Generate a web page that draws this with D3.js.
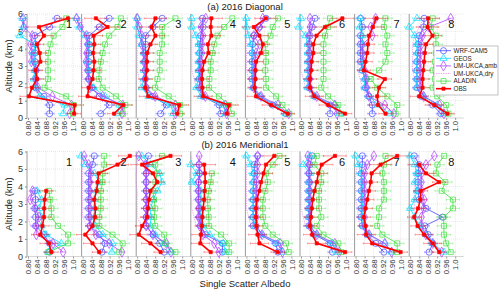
<!DOCTYPE html>
<html lang="en">
<head>
<meta charset="UTF-8">
<title>Single Scatter Albedo profiles</title>
<script src="https://d3js.org/d3.v7.min.js"></script>
<style>
  body { margin: 0; background: #fff; }
  svg { display: block; font-family: "Liberation Sans", Arial, sans-serif; }
</style>
</head>
<body>
<svg></svg>
<script>
// altitude levels (km), bottom to top
const alts = [0.25, 0.75, 1.25, 1.75, 2.25, 2.75, 3.25, 3.75, 4.25, 4.75, 5.25, 5.75];
const panelNames = ["1", "2", "3", "4", "5", "6", "7", "8"];
const xTicks = [0.80, 0.84, 0.88, 0.92, 0.96, 1.0];
const yTicks = [0, 1, 2, 3, 4, 5, 6];
const rowTitles = ["(a) 2016 Diagonal", "(b) 2016 Meridional1"];

// (a) Diagonal, one array per panel, values bottom to top
const wrfA = [
  [0.896, 0.896, 0.871, 0.834, 0.834, 0.834, 0.831, 0.831, 0.834, 0.830, 0.896, 0.929],
  [0.881, 0.918, 0.874, 0.841, 0.827, 0.827, 0.827, 0.827, 0.828, 0.830, 0.874, 0.918],
  [0.904, 0.930, 0.870, 0.840, 0.836, 0.836, 0.836, 0.836, 0.837, 0.837, 0.870, 0.911],
  [0.929, 0.921, 0.850, 0.835, 0.833, 0.835, 0.835, 0.835, 0.837, 0.840, 0.850, 0.847],
  [0.976, 0.917, 0.858, 0.831, 0.825, 0.825, 0.825, 0.825, 0.828, 0.833, 0.858, 0.887],
  [0.929, 0.930, 0.860, 0.835, 0.835, 0.835, 0.835, 0.835, 0.835, 0.840, 0.850, 0.862],
  [0.874, 0.874, 0.859, 0.844, 0.844, 0.830, 0.822, 0.822, 0.822, 0.822, 0.830, 0.822],
  [0.936, 0.900, 0.850, 0.830, 0.830, 0.830, 0.830, 0.835, 0.835, 0.840, 0.860, 0.862]
];
const geosA = [
  [0.956, 0.963, 0.852, 0.830, 0.826, 0.830, 0.826, 0.826, 0.830, 0.763, 0.780, 0.775],
  [0.955, 0.963, 0.900, 0.849, 0.830, 0.827, 0.822, 0.826, 0.830, 0.812, 0.785, 0.773],
  [0.960, 0.950, 0.850, 0.820, 0.830, 0.830, 0.830, 0.830, 0.820, 0.810, 0.800, 0.800],
  [0.950, 0.940, 0.840, 0.820, 0.830, 0.830, 0.830, 0.833, 0.830, 0.818, 0.800, 0.800],
  [0.975, 0.930, 0.860, 0.830, 0.830, 0.830, 0.830, 0.830, 0.820, 0.810, 0.800, 0.800],
  [0.970, 0.950, 0.860, 0.830, 0.830, 0.830, 0.830, 0.830, 0.830, 0.820, 0.790, 0.800],
  [0.950, 0.900, 0.860, 0.840, 0.840, 0.830, 0.830, 0.830, 0.830, 0.830, 0.818, 0.822],
  [0.950, 0.920, 0.860, 0.830, 0.830, 0.830, 0.830, 0.830, 0.830, 0.820, 0.795, 0.830]
];
const ambA = [
  [0.985, 0.993, 0.908, 0.844, 0.837, 0.837, 0.815, 0.816, 0.812, 0.819, 0.781, 0.778],
  [0.975, 0.978, 0.889, 0.833, 0.827, 0.822, 0.815, 0.818, 0.822, 0.818, 0.790, 0.773],
  [0.970, 0.970, 0.880, 0.840, 0.835, 0.835, 0.830, 0.830, 0.820, 0.820, 0.810, 0.800],
  [0.955, 0.950, 0.860, 0.840, 0.840, 0.840, 0.840, 0.845, 0.845, 0.850, 0.840, 0.862],
  [0.988, 0.940, 0.865, 0.833, 0.836, 0.836, 0.836, 0.843, 0.858, 0.833, 0.858, 0.873],
  [0.960, 0.950, 0.870, 0.840, 0.840, 0.840, 0.840, 0.840, 0.840, 0.835, 0.840, 0.840],
  [0.970, 0.930, 0.860, 0.850, 0.850, 0.840, 0.835, 0.830, 0.830, 0.874, 0.867, 0.889],
  [0.950, 0.930, 0.860, 0.845, 0.845, 0.845, 0.845, 0.845, 0.850, 0.855, 0.884, 0.980]
];
const dryA = [
  [0.970, 0.960, 0.860, 0.810, 0.800, 0.800, 0.795, 0.790, 0.790, 0.790, 0.790, 0.800],
  [0.970, 0.970, 0.900, 0.820, 0.800, 0.800, 0.795, 0.790, 0.790, 0.795, 0.800, 0.800],
  [0.960, 0.960, 0.880, 0.820, 0.810, 0.800, 0.800, 0.800, 0.800, 0.800, 0.800, 0.800],
  [0.950, 0.940, 0.860, 0.820, 0.810, 0.800, 0.800, 0.800, 0.800, 0.800, 0.810, 0.810],
  [0.980, 0.930, 0.860, 0.820, 0.810, 0.800, 0.800, 0.800, 0.800, 0.800, 0.800, 0.810],
  [0.960, 0.940, 0.860, 0.820, 0.810, 0.800, 0.800, 0.800, 0.800, 0.800, 0.800, 0.800],
  [0.970, 0.920, 0.850, 0.830, 0.820, 0.810, 0.810, 0.810, 0.810, 0.820, 0.830, 0.840],
  [0.950, 0.920, 0.850, 0.830, 0.820, 0.810, 0.810, 0.810, 0.810, 0.820, 0.840, 0.860]
];
const aladinA = [
  [1.000, 1.003, 0.970, 0.874, 0.889, 0.889, 0.889, 0.889, 0.900, 0.914, 0.953, 0.970],
  [0.980, 0.990, 0.948, 0.889, 0.872, 0.874, 0.881, 0.889, 0.900, 0.918, 0.955, 0.970],
  [0.990, 0.990, 0.940, 0.880, 0.890, 0.900, 0.900, 0.900, 0.910, 0.911, 0.911, 0.970],
  [0.978, 0.966, 0.921, 0.877, 0.878, 0.884, 0.884, 0.892, 0.900, 0.914, 0.944, 0.980],
  [0.991, 0.960, 0.932, 0.887, 0.887, 0.884, 0.887, 0.887, 0.884, 0.907, 0.917, 0.940],
  [0.980, 0.966, 0.920, 0.890, 0.900, 0.900, 0.900, 0.900, 0.900, 0.907, 0.920, 0.929],
  [0.978, 0.985, 0.941, 0.896, 0.867, 0.904, 0.933, 0.941, 0.933, 0.941, 0.926, 0.933],
  [0.970, 0.960, 0.920, 0.900, 0.910, 0.900, 0.910, 0.914, 0.914, 0.914, 0.892, 0.900]
];
const obsA = [
  [1.005, 1.007, 0.804, 0.818, 0.840, 0.834, 0.855, 0.852, 0.840, 0.871, 0.849, 0.978],
  [0.940, 0.980, 0.822, 0.827, 0.844, 0.849, 0.852, 0.847, 0.852, 0.849, 0.911, 0.859],
  [0.978, 0.988, 0.849, 0.837, 0.837, 0.843, 0.843, 0.844, 0.859, 0.881, 0.864, 0.881],
  [0.956, 0.966, 0.850, 0.847, 0.845, 0.847, 0.855, 0.874, 0.871, 0.887, 0.884, 0.887],
  [0.984, 0.910, 0.843, 0.836, 0.840, 0.840, 0.843, 0.865, 0.873, 0.858, 0.833, 0.887],
  [0.996, 0.921, 0.859, 0.840, 0.840, 0.845, 0.847, 0.855, 0.855, 0.869, 0.907, 0.984],
  [0.933, 0.900, 0.896, 0.904, 0.930, 0.837, 0.844, 0.852, 0.855, 0.859, 0.877, 0.892],
  [0.966, 0.907, 0.840, 0.855, 0.855, 0.858, 0.862, 0.865, 0.870, 0.899, 0.877, 0.880]
];

// (b) Meridional1
const wrfB = [
  [0.896, 0.896, 0.871, 0.834, 0.834, 0.830, 0.834, 0.830, null, null, null, null],
  [0.886, 0.900, 0.874, 0.833, 0.827, 0.827, 0.827, 0.827, 0.827, 0.827, 0.844, 0.852],
  [0.920, 0.900, 0.870, 0.840, 0.840, 0.840, 0.840, 0.840, 0.840, 0.840, 0.840, 0.850],
  [0.936, 0.936, 0.860, 0.840, 0.835, 0.835, 0.830, 0.830, 0.830, 0.835, 0.832, null],
  [0.940, 0.930, 0.860, 0.830, 0.830, 0.830, 0.830, 0.830, 0.833, 0.835, 0.835, 0.850],
  [0.940, 0.930, 0.860, 0.835, 0.835, 0.835, 0.835, 0.835, 0.835, 0.835, 0.840, 0.850],
  [0.926, 0.890, 0.850, 0.830, 0.825, 0.825, 0.825, 0.825, 0.825, 0.825, 0.830, 0.830],
  [0.884, 0.900, 0.880, 0.865, 0.944, 0.870, 0.840, 0.835, 0.835, 0.835, 0.840, 0.818]
];
const geosB = [
  [0.890, 0.948, 0.880, 0.860, 0.860, 0.850, 0.860, 0.840, null, null, null, null],
  [0.930, 0.933, 0.889, 0.857, 0.852, 0.852, 0.852, 0.860, 0.874, 0.852, 0.812, 0.793],
  [0.950, 0.920, 0.880, 0.860, 0.860, 0.860, 0.870, 0.890, 0.910, 0.900, 0.860, 0.820],
  [0.950, 0.940, 0.880, 0.850, 0.840, 0.840, 0.840, 0.840, 0.800, 0.822, 0.795, null],
  [0.960, 0.940, 0.870, 0.840, 0.830, 0.830, 0.830, 0.830, 0.830, 0.830, 0.820, 0.800],
  [0.960, 0.940, 0.870, 0.840, 0.835, 0.835, 0.835, 0.835, 0.835, 0.840, 0.810, 0.840],
  [0.960, 0.930, 0.860, 0.835, 0.830, 0.830, 0.830, 0.830, 0.830, 0.825, 0.812, 0.800],
  [0.950, 0.900, 0.870, 0.840, 0.820, 0.800, 0.820, 0.830, 0.820, 0.830, 0.820, 0.800]
];
const ambB = [
  [0.956, 0.911, 0.837, 0.837, 0.849, 0.834, 0.810, 0.820, null, null, null, null],
  [0.975, 0.918, 0.859, 0.833, 0.833, 0.833, 0.833, 0.833, 0.833, 0.837, 0.827, 0.807],
  [0.950, 0.930, 0.870, 0.840, 0.840, 0.840, 0.840, 0.840, 0.840, 0.840, 0.837, 0.807],
  [0.920, 0.900, 0.850, 0.835, 0.830, 0.830, 0.830, 0.830, 0.830, 0.835, 0.832, 0.833],
  [0.960, 0.950, 0.870, 0.845, 0.845, 0.845, 0.845, 0.845, 0.845, 0.850, 0.850, 0.850],
  [0.970, 0.950, 0.870, 0.840, 0.840, 0.840, 0.840, 0.840, 0.840, 0.835, 0.835, 0.830],
  [0.960, 0.930, 0.860, 0.840, 0.840, 0.840, 0.840, 0.840, 0.840, 0.840, 0.852, 0.881],
  [0.940, 0.900, 0.870, 0.850, 0.850, 0.860, 0.862, 0.850, 0.850, 0.850, 0.870, 0.907]
];
const dryB = [
  [0.950, 0.930, 0.870, 0.810, 0.800, 0.800, 0.790, 0.800, null, null, null, null],
  [0.960, 0.920, 0.860, 0.820, 0.800, 0.800, 0.800, 0.800, 0.800, 0.800, 0.800, 0.800],
  [0.950, 0.930, 0.870, 0.820, 0.800, 0.800, 0.800, 0.800, 0.795, 0.795, 0.800, 0.800],
  [0.920, 0.900, 0.850, 0.820, 0.810, 0.800, 0.800, 0.790, 0.790, 0.790, 0.800, 0.800],
  [0.960, 0.940, 0.860, 0.820, 0.810, 0.800, 0.800, 0.800, 0.800, 0.800, 0.800, 0.810],
  [0.970, 0.940, 0.860, 0.820, 0.810, 0.800, 0.800, 0.800, 0.800, 0.800, 0.800, 0.800],
  [0.960, 0.920, 0.850, 0.820, 0.810, 0.810, 0.800, 0.800, 0.800, 0.800, 0.810, 0.820],
  [0.930, 0.890, 0.860, 0.830, 0.820, 0.820, 0.820, 0.820, 0.820, 0.820, 0.830, 0.840]
];
const aladinB = [
  [0.890, 0.978, 0.978, 0.933, 0.904, 0.904, 0.899, 0.893, null, null, null, null],
  [0.963, 0.978, 0.933, 0.874, 0.874, 0.881, 0.881, 0.881, 0.889, 0.889, 0.896, 0.896],
  [0.970, 0.925, 0.920, 0.880, 0.875, 0.880, 0.875, 0.870, 0.881, 0.889, 0.880, 0.911],
  [0.966, 0.966, 0.930, 0.877, 0.875, 0.872, 0.870, 0.875, 0.884, 0.889, null, null],
  [0.988, 0.976, 0.917, 0.884, 0.874, 0.873, 0.873, 0.884, 0.895, 0.887, 0.917, 0.947],
  [0.980, 0.966, 0.900, 0.870, 0.890, 0.880, 0.880, 0.880, 0.890, 0.890, 0.860, 0.870],
  [0.985, 0.985, 0.919, 0.896, 0.904, 0.904, 0.926, 0.926, 0.926, 0.919, 0.926, 0.933],
  [0.980, 0.960, 0.950, 0.950, 0.948, 0.990, 0.990, 0.940, 0.956, 0.914, 0.921, 0.951]
];
const obsB = [
  [0.904, 0.893, 0.855, 0.864, 0.871, 0.872, 0.874, 0.881, null, null, null, null],
  [0.874, 0.844, 0.812, 0.844, 0.855, 0.857, 0.852, 0.862, 0.867, 0.871, 0.955, 1.010],
  [0.904, 0.859, 0.807, 0.822, 0.844, 0.848, 0.852, 0.859, 0.889, 0.870, 0.822, 0.948],
  [0.884, 0.838, 0.840, 0.845, 0.847, 0.850, 0.855, 0.857, 0.860, 0.858, 0.855, null],
  [0.939, 0.858, 0.850, 0.845, 0.843, 0.843, 0.846, 0.858, 0.865, 0.876, 0.887, 0.924],
  [0.996, 0.870, 0.850, 0.840, 0.844, 0.848, 0.852, 0.860, 0.870, 0.877, 0.892, 0.951],
  [1.000, 0.874, 0.847, 0.844, 0.837, 0.844, 0.852, 0.859, 0.867, 0.871, 0.911, 0.985],
  [0.929, 0.900, 0.862, 0.833, 0.818, 0.835, 0.845, 0.847, 0.929, 0.870, 0.840, null]
];

// error bar half widths per level (bottom to top)
const errWrf = [0.02, 0.02, 0.02, 0.02, 0.02, 0.02, 0.02, 0.02, 0.02, 0.02, 0.02, 0.02];
const errGeos = [0.02, 0.02, 0.02, 0.015, 0.015, 0.015, 0.015, 0.015, 0.015, 0.02, 0.02, 0.02];
const errAmb = [0.01, 0.01, 0.01, 0.01, 0.01, 0.01, 0.01, 0.01, 0.01, 0.01, 0.01, 0.01];
const errAladin = [0.02, 0.03, 0.03, 0.03, 0.03, 0.03, 0.03, 0.03, 0.03, 0.03, 0.03, 0.03];
const errObs = [0.03, 0.04, 0.04, 0.03, 0.03, 0.03, 0.03, 0.03, 0.03, 0.04, 0.05, 0.05];

const W = 500, H = 290;
const svg = d3.select("svg").attr("width", W).attr("height", H);

const panelLeft = 27, panelW = 54.6;
const rows = [
  { y0: 118, y6: 14, titleY: 10 },
  { y0: 256.5, y6: 151.5, titleY: 148 }
];

const series = [
  { name: "UM-UKCA,dry", color: "#ee88ee", sym: null, dash: "1.2,1.2", width: 0.8, data: [dryA, dryB], err: null },
  { name: "WRF-CAM5", color: "#4646ff", sym: d3.symbolCircle, size: 30, fill: "none", width: 0.8, data: [wrfA, wrfB], err: errWrf },
  { name: "GEOS", color: "#00dcff", sym: d3.symbolTriangle, size: 22, fill: "none", width: 0.8, data: [geosA, geosB], err: errGeos },
  { name: "UM-UKCA,amb", color: "#b040ff", sym: d3.symbolDiamond, size: 30, fill: "none", width: 0.8, data: [ambA, ambB], err: errAmb },
  { name: "ALADIN", color: "#3ee03e", sym: d3.symbolSquare, size: 25, fill: "none", width: 0.8, data: [aladinA, aladinB], err: errAladin },
  { name: "OBS", color: "#ff0000", sym: d3.symbolSquare, size: 10, fill: "#ff0000", width: 1.6, data: [obsA, obsB], err: errObs }
];
const legendOrder = ["WRF-CAM5", "GEOS", "UM-UKCA,amb", "UM-UKCA,dry", "ALADIN", "OBS"];

rows.forEach((row, r) => {
  const y = d3.scaleLinear().domain([0, 6]).range([row.y0, row.y6]);

  svg.append("text")
    .attr("x", 245).attr("y", row.titleY)
    .attr("text-anchor", "middle").attr("font-size", 9.5).attr("fill", "#222")
    .text(rowTitles[r]);

  svg.append("text")
    .attr("transform", `translate(9,${(row.y0 + row.y6) / 2}) rotate(-90)`)
    .attr("text-anchor", "middle").attr("dy", "0.35em")
    .attr("font-size", 9.5).attr("fill", "#222")
    .text("Altitude (km)");

  const yAxis = svg.append("g")
    .attr("transform", `translate(${panelLeft},0)`)
    .call(d3.axisLeft(y).tickValues(yTicks).tickFormat(d3.format("d")).tickSize(2).tickPadding(2));
  yAxis.select(".domain").remove();
  yAxis.selectAll("line").attr("stroke", "#888");
  yAxis.selectAll("text").attr("font-size", 9).attr("fill", "#333").attr("font-family", null);

  panelNames.forEach((pn, p) => {
    const left = panelLeft + p * panelW;
    const x = d3.scaleLinear().domain([0.8, 1.0]).range([left + 1, left + 46]);
    const g = svg.append("g");

    // grid
    g.selectAll(".vg").data(xTicks.slice(1)).join("line")
      .attr("x1", d => x(d)).attr("x2", d => x(d))
      .attr("y1", y(0)).attr("y2", y(6))
      .attr("stroke", "#cfcfcf").attr("stroke-width", 0.5).attr("stroke-dasharray", "1,1");
    g.selectAll(".hg").data(yTicks.slice(1)).join("line")
      .attr("x1", left).attr("x2", left + panelW)
      .attr("y1", d => y(d)).attr("y2", d => y(d))
      .attr("stroke", "#cfcfcf").attr("stroke-width", 0.5).attr("stroke-dasharray", "1,1");
    g.append("line")
      .attr("x1", left).attr("x2", left).attr("y1", y(0)).attr("y2", y(6))
      .attr("stroke", "#9a9a9a").attr("stroke-width", 1);
    g.append("line")
      .attr("x1", left).attr("x2", left + panelW).attr("y1", y(0)).attr("y2", y(0))
      .attr("stroke", "#bbb").attr("stroke-width", 0.6);

    // x axis with rotated labels
    const xAxis = g.append("g")
      .attr("transform", `translate(0,${y(0)})`)
      .call(d3.axisBottom(x).tickValues(xTicks).tickSize(2)
        .tickFormat(d => d === 1 ? "1.0" : d3.format(".2f")(d)));
    xAxis.select(".domain").remove();
    xAxis.selectAll("line").attr("stroke", "#999");
    xAxis.selectAll("text")
      .attr("font-family", null).attr("font-size", 7.6).attr("fill", "#333")
      .attr("x", -3).attr("y", 0).attr("dy", "0.35em")
      .attr("transform", "rotate(-90)").style("text-anchor", "end");

    // series
    series.forEach(s => {
      const vals = s.data[r][p];
      const pts = alts.map((a, i) => ({ a, v: vals[i], e: s.err ? s.err[i] : 0 }))
        .filter(d => d.v != null);

      if (s.err) {
        const eb = g.append("g").attr("stroke", s.color).attr("stroke-width", 0.5).attr("opacity", 0.75);
        eb.selectAll(".eb").data(pts).join("line")
          .attr("x1", d => x(d.v - d.e)).attr("x2", d => x(d.v + d.e))
          .attr("y1", d => y(d.a)).attr("y2", d => y(d.a));
        eb.selectAll(".cl").data(pts).join("line")
          .attr("x1", d => x(d.v - d.e)).attr("x2", d => x(d.v - d.e))
          .attr("y1", d => y(d.a) - 1).attr("y2", d => y(d.a) + 1);
        eb.selectAll(".cr").data(pts).join("line")
          .attr("x1", d => x(d.v + d.e)).attr("x2", d => x(d.v + d.e))
          .attr("y1", d => y(d.a) - 1).attr("y2", d => y(d.a) + 1);
      }

      const line = d3.line().defined(d => d.v != null).x(d => x(d.v)).y(d => y(d.a));
      g.append("path")
        .attr("d", line(alts.map((a, i) => ({ a, v: vals[i] }))))
        .attr("fill", "none").attr("stroke", s.color)
        .attr("stroke-width", s.width)
        .attr("stroke-dasharray", s.dash || null);

      if (s.sym) {
        g.selectAll(null).data(pts).join("path")
          .attr("transform", d => `translate(${x(d.v)},${y(d.a)})`)
          .attr("d", d3.symbol(s.sym, s.size))
          .attr("fill", s.fill).attr("stroke", s.color).attr("stroke-width", 0.7);
      }
    });

    g.append("text")
      .attr("x", left + 42).attr("y", y(5.2))
      .attr("text-anchor", "middle").attr("font-size", 11).attr("fill", "#111")
      .text(pn);
  });
});

svg.append("text")
  .attr("x", 245).attr("y", 287)
  .attr("text-anchor", "middle").attr("font-size", 9.5).attr("fill", "#222")
  .text("Single Scatter Albedo");

// legend
const lg = svg.append("g").attr("transform", "translate(434,46)");
lg.append("rect").attr("width", 64).attr("height", 49)
  .attr("fill", "#fff").attr("stroke", "#999").attr("stroke-width", 0.6);
legendOrder.forEach((name, i) => {
  const s = series.find(d => d.name === name);
  const ly = 4.7 + i * 7.6;
  lg.append("line").attr("x1", 2).attr("x2", 17).attr("y1", ly).attr("y2", ly)
    .attr("stroke", s.color).attr("stroke-width", s.width)
    .attr("stroke-dasharray", s.dash || null);
  if (s.sym) {
    lg.append("path").attr("transform", `translate(9.5,${ly})`)
      .attr("d", d3.symbol(s.sym, s.size))
      .attr("fill", s.fill).attr("stroke", s.color).attr("stroke-width", 0.7);
  }
  lg.append("text").attr("x", 19.5).attr("y", ly).attr("dy", "0.35em")
    .attr("font-size", 6.3).attr("fill", "#222").text(name);
});
</script>
</body>
</html>
